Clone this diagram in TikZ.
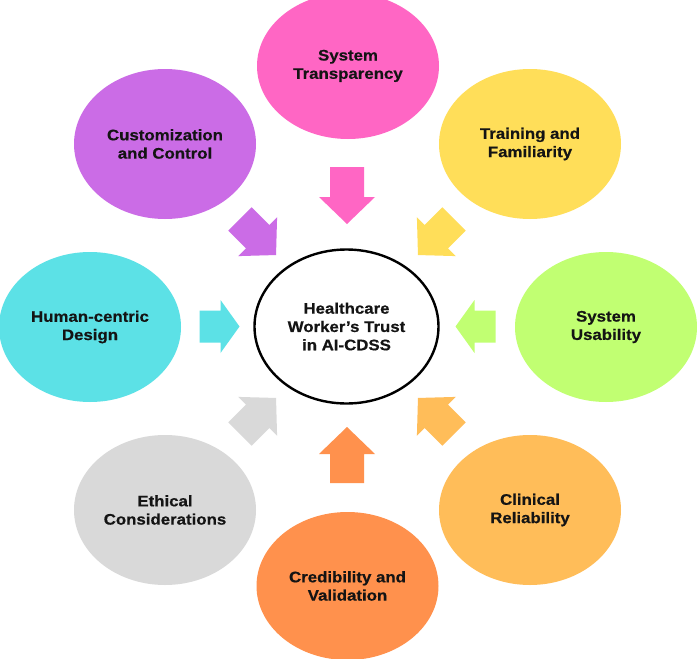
\documentclass[tikz,border=0pt]{standalone}
\usepackage{fontspec}
\setmainfont{Liberation Sans}[FakeStretch=1.1, BoldFeatures={FakeBold=0.5}]
\usetikzlibrary{shapes.geometric}
\definecolor{cPink}{HTML}{FF66C4}
\definecolor{cPurple}{HTML}{CB6CE6}
\definecolor{cYellow}{HTML}{FFDE59}
\definecolor{cCyan}{HTML}{5CE1E6}
\definecolor{cGreen}{HTML}{C1FF72}
\definecolor{cLOrange}{HTML}{FFBD59}
\definecolor{cOrange}{HTML}{FF914D}
\definecolor{cGray}{HTML}{D9D9D9}
\definecolor{cText}{HTML}{141414}
% block arrow: #1 centre, #2 angle, #3 colour, #4 length, #5 head length, #6 head width, #7 shaft width
\newcommand{\blockarrow}[7]{%
  \fill[#3, shift={(#1)}, rotate=#2]
    (-#4/2, #7/2) -- (#4/2-#5, #7/2) -- (#4/2-#5, #6/2) -- (#4/2, 0)
    -- (#4/2-#5, -#6/2) -- (#4/2-#5, -#7/2) -- (-#4/2, -#7/2) -- cycle;}
\tikzset{
  factor/.style={ellipse, minimum width=182pt, minimum height=150pt, inner sep=0pt,
    align=center, text=cText, font=\bfseries\fontsize{15.3}{18.3}\selectfont},
  core/.style={ellipse, draw=black, line width=2.4pt, fill=white,
    minimum width=184pt, minimum height=154pt, inner sep=0pt,
    align=center, text=cText, font=\bfseries\fontsize{15.3}{18.3}\selectfont}
}
\begin{document}
\begin{tikzpicture}[x=1pt, y=-1pt]
\useasboundingbox (0,0) rectangle (697,659);
\clip (0,0) rectangle (697,659);
\fill[white] (0,0) rectangle (697,659);

\node[factor, fill=cPink, minimum height=146pt] (trans) at (348,66) {\raisebox{-3pt}{\begin{tabular}{c}System\\Transparency\end{tabular}}};
\node[factor, fill=cPurple] (cust) at (165,144) {Customization\\and Control};
\node[factor, fill=cYellow] (train) at (530,144) {Training and\\Familiarity};
\node[factor, fill=cCyan] (human) at (90,327) {Human-centric\\Design};
\node[factor, fill=cGreen] (usab) at (606,327) {System\\Usability};
\node[factor, fill=cGray] (ethic) at (165,510) {Ethical\\Considerations};
\node[factor, fill=cLOrange] (clin) at (530,510) {Clinical\\Reliability};
\node[factor, fill=cOrange, minimum height=148pt] (cred) at (347.5,586) {Credibility and\\Validation};

\node[core] (trust) at (346.5,326.5) {Healthcare\\Worker's Trust\\in AI-CDSS};

\coordinate (aTrans) at (347,195.5);
\coordinate (aCred)  at (347,455);
\coordinate (aHuman) at (219.5,326.5);
\coordinate (aUsab)  at (475.5,326.5);
\coordinate (aCust)  at (258,237);
\coordinate (aTrain) at (436,237);
\coordinate (aEthic) at (258,416);
\coordinate (aClin)  at (436,416);

\blockarrow{aTrans}{-90}{cPink}{57}{27}{56}{34}
\blockarrow{aCred}{90}{cOrange}{56}{27}{56}{34}
\blockarrow{aHuman}{0}{cCyan}{40}{19}{53}{32}
\blockarrow{aUsab}{180}{cGreen}{40}{19}{53}{32}
\blockarrow{aCust}{-45}{cPurple}{51}{26}{55}{33}
\blockarrow{aTrain}{-135}{cYellow}{51}{26}{55}{33}
\blockarrow{aEthic}{45}{cGray}{51}{26}{55}{33}
\blockarrow{aClin}{135}{cLOrange}{51}{26}{55}{33}
\end{tikzpicture}
\end{document}
